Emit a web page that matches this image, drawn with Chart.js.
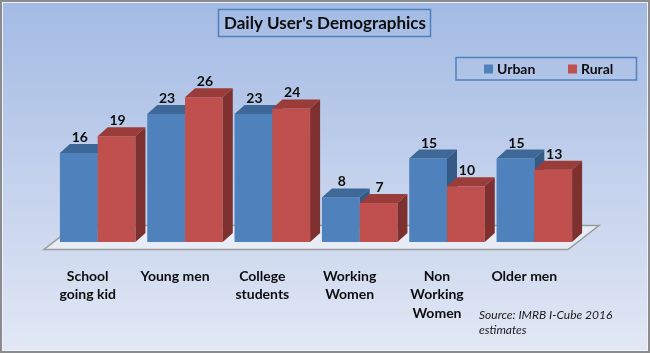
<!DOCTYPE html>
<html>
<head>
<meta charset="utf-8">
<script src="https://cdn.jsdelivr.net/npm/chart.js@4"></script>
<style>
  html, body { margin: 0; padding: 0; background: #fff; }
  #wrap { width: 650px; height: 353px; }
</style>
</head>
<body>
<div id="wrap"><canvas id="demo" width="650" height="353"></canvas></div>
<script>
const TITLE = "Daily User's Demographics";
const SOURCE = ['Source: IMRB I-Cube 2016', 'estimates'];

const categories = [
  ['School', 'going kid'],
  'Young men',
  ['College', 'students'],
  ['Working', 'Women'],
  ['Non', 'Working', 'Women'],
  'Older men'
];
const seriesNames = ['Urban', 'Rural'];
const urbanValues = [16, 23, 23, 8, 15, 15];
const ruralValues = [19, 26, 24, 7, 10, 13];

const FRONT = ['#4f81bd', '#c0504d'];
const TOP = ['#3e6898', '#9a3d3a'];
const SIDE = ['#365a86', '#7e302e'];

const DEPTH_X = 10;
const DEPTH_Y = 9;
const FONT = 'Lato, "Open Sans", sans-serif';

// background, outer frame, title, legend and floor
const framePlugin = {
  id: 'frame',
  beforeDraw(chart) {
    const {ctx, width, height} = chart;
    ctx.save();
    const grad = ctx.createLinearGradient(0, 0, 0, height);
    grad.addColorStop(0, '#a2bae4');
    grad.addColorStop(0.5, '#c3d1ec');
    grad.addColorStop(1, '#e2e8f5');
    ctx.fillStyle = grad;
    ctx.fillRect(0, 0, width, height);
    ctx.strokeStyle = '#eef2fa';
    ctx.lineWidth = 1;
    ctx.strokeRect(2.5, 2.5, width - 5, height - 5);
    ctx.strokeStyle = '#8c8c8c';
    ctx.lineWidth = 2;
    ctx.strokeRect(1, 1, width - 2, height - 2);

    // title
    ctx.strokeStyle = '#4f81bd';
    ctx.lineWidth = 1.5;
    ctx.strokeRect(218.5, 9.5, 212, 27);
    ctx.fillStyle = '#0d0d0d';
    ctx.font = 'bold 17px ' + FONT;
    ctx.textAlign = 'center';
    ctx.textBaseline = 'alphabetic';
    ctx.fillText(TITLE, 325, 29);

    // legend
    ctx.strokeRect(456, 57.5, 180.5, 22.5);
    ctx.font = 'bold 14px ' + FONT;
    ctx.textAlign = 'left';
    const legendX = [484, 568];
    seriesNames.forEach((name, i) => {
      ctx.fillStyle = FRONT[i];
      ctx.fillRect(legendX[i], 64.5, 9, 9);
      ctx.fillStyle = '#0d0d0d';
      ctx.fillText(name, legendX[i] + 13, 74);
    });

    // source note
    ctx.font = 'italic 12px ' + FONT;
    ctx.fillStyle = '#1a1a1a';
    ctx.fillText(SOURCE[0], 479, 319);
    ctx.fillText(SOURCE[1], 479, 334);
    ctx.restore();
  },
  beforeDatasetsDraw(chart) {
    const {ctx, chartArea} = chart;
    const y0 = chart.scales.y.getPixelForValue(0);
    const fy = y0 + 7.5;
    const fl = chartArea.left - 10;
    const fr = chartArea.right - 10;
    ctx.save();
    ctx.beginPath();
    ctx.moveTo(fl, fy);
    ctx.lineTo(fr, fy);
    ctx.lineTo(fr + 31, fy - 24);
    ctx.lineTo(fl + 31, fy - 24);
    ctx.closePath();
    ctx.fillStyle = 'rgba(235,239,248,0.85)';
    ctx.fill();
    ctx.strokeStyle = '#9a9a9a';
    ctx.lineWidth = 1.5;
    ctx.stroke();
    ctx.restore();
  }
};

// bars are laid out by Chart.js; faces are painted here so urban goes first
const bar3dPlugin = {
  id: 'bar3d',
  afterDatasetsDraw(chart) {
    const {ctx} = chart;
    ctx.save();
    chart.data.datasets.forEach((ds, i) => {
      chart.getDatasetMeta(i).data.forEach((bar) => {
        const {x, y, base, width} = bar.getProps(['x', 'y', 'base', 'width'], true);
        const l = x - width / 2;
        const r = x + width / 2;
        ctx.fillStyle = FRONT[i];
        ctx.fillRect(l, y, width, base - y);
        ctx.fillStyle = TOP[i];
        ctx.beginPath();
        ctx.moveTo(l, y);
        ctx.lineTo(r, y);
        ctx.lineTo(r + DEPTH_X, y - DEPTH_Y);
        ctx.lineTo(l + DEPTH_X, y - DEPTH_Y);
        ctx.closePath();
        ctx.fill();
        ctx.fillStyle = SIDE[i];
        ctx.beginPath();
        ctx.moveTo(r, y);
        ctx.lineTo(r + DEPTH_X, y - DEPTH_Y);
        ctx.lineTo(r + DEPTH_X, base - DEPTH_Y);
        ctx.lineTo(r, base);
        ctx.closePath();
        ctx.fill();
      });
    });

    ctx.font = 'bold 14px ' + FONT;
    ctx.fillStyle = '#0d0d0d';
    ctx.textAlign = 'center';
    ctx.textBaseline = 'alphabetic';
    chart.data.datasets.forEach((ds, i) => {
      chart.getDatasetMeta(i).data.forEach((bar, j) => {
        ctx.fillText(String(ds.data[j]), bar.x + 1, bar.y - DEPTH_Y - 2);
      });
    });
    ctx.restore();
  }
};

new Chart(document.getElementById('demo'), {
  type: 'bar',
  data: {
    labels: categories,
    datasets: [
      {label: seriesNames[0], data: urbanValues, backgroundColor: 'rgba(0,0,0,0)'},
      {label: seriesNames[1], data: ruralValues, backgroundColor: 'rgba(0,0,0,0)'}
    ]
  },
  options: {
    responsive: false,
    animation: false,
    events: [],
    layout: {padding: {top: 75, left: 54, right: 72, bottom: 0}},
    datasets: {bar: {categoryPercentage: 0.865, barPercentage: 1.0}},
    plugins: {legend: {display: false}, title: {display: false}, tooltip: {enabled: false}},
    scales: {
      x: {
        grid: {display: false},
        border: {display: false},
        ticks: {
          color: '#0d0d0d',
          font: {family: FONT, size: 14, weight: 'bold', lineHeight: 1.32},
          padding: 17,
          labelOffset: -10,
          maxRotation: 0,
          autoSkip: false
        },
        afterFit(scale) { scale.height = 111; }
      },
      y: {display: false, min: 0, max: 30}
    }
  },
  plugins: [framePlugin, bar3dPlugin]
});
</script>
</body>
</html>
